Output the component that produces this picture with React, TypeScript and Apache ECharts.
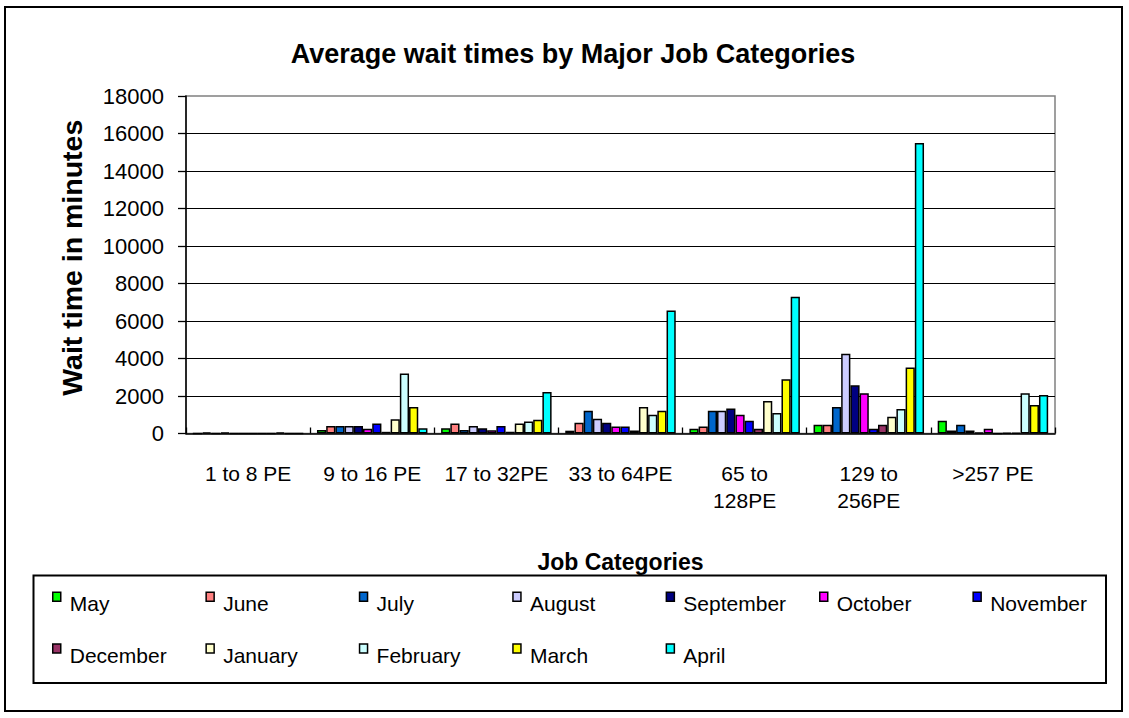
import React, { useEffect, useRef } from "react";
import * as echarts from "echarts";

// Job categories along the x axis
const categories = [
  "1 to 8 PE",
  "9 to 16 PE",
  "17 to 32PE",
  "33 to 64PE",
  "65 to\n128PE",
  "129 to\n256PE",
  ">257 PE",
];

// Months shown as series, in legend order
const months = [
  "May",
  "June",
  "July",
  "August",
  "September",
  "October",
  "November",
  "December",
  "January",
  "February",
  "March",
  "April",
];

const monthColors = [
  "#00FF00",
  "#FF8080",
  "#0066CC",
  "#CCCCFF",
  "#000080",
  "#FF00FF",
  "#0000FF",
  "#993366",
  "#FFFFCC",
  "#CCFFFF",
  "#FFFF00",
  "#00FFFF",
];

// Average wait time (minutes) per job category, one array per month
const may = [0, 190, 280, 150, 260, 470, 680];
const june = [60, 400, 530, 580, 370, 470, 160];
const july = [0, 400, 190, 1210, 1210, 1420, 470];
const august = [60, 400, 400, 790, 1210, 4250, 160];
const september = [0, 400, 280, 580, 1330, 2570, 50];
const october = [0, 250, 170, 370, 1000, 2150, 260];
const november = [0, 530, 400, 370, 680, 260, 0];
const december = [0, 90, 90, 160, 260, 470, 40];
const january = [0, 760, 530, 1420, 1730, 890, 40];
const february = [60, 3200, 640, 1000, 1100, 1310, 2150];
const march = [0, 1420, 740, 1210, 2890, 3520, 1520];
const april = [0, 280, 2210, 6560, 7300, 15500, 2050];

const monthValues = [
  may,
  june,
  july,
  august,
  september,
  october,
  november,
  december,
  january,
  february,
  march,
  april,
];

const yTicks = { min: 0, max: 18000, interval: 2000 };

const FONT = '"Liberation Sans", Arial, Helvetica, sans-serif';

export default function App() {
  const ref = useRef<HTMLDivElement>(null);

  useEffect(() => {
    if (!ref.current) return;
    const chart = echarts.init(ref.current, null, { renderer: "svg" });

    const series = months.map((m, i) => ({
      name: m,
      type: "bar",
      data: monthValues[i],
      barGap: "0%",
      barCategoryGap: "11%",
      itemStyle: {
        color: monthColors[i],
        borderColor: "#000",
        borderWidth: 1.5,
      },
      emphasis: { disabled: true },
    }));

    // one legend per entry so the entries sit on an even two-row grid;
    // the label sits a little below its swatch
    const legends = months.map((m, i) => {
      const row = i < 7 ? 0 : 1;
      const col = i < 7 ? i : i - 7;
      return {
        data: [m],
        left: 52 + col * 153.4,
        top: row === 0 ? 579.3 : 631,
        orient: "horizontal",
        padding: 0,
        icon: "rect",
        itemWidth: 8,
        itemHeight: 9,
        selectedMode: false,
        formatter: "{t|{name}}",
        itemStyle: { borderColor: "#000", borderWidth: 1.5 },
        textStyle: {
          fontFamily: FONT,
          fontSize: 21,
          color: "#000",
          rich: {
            t: {
              fontFamily: FONT,
              fontSize: 21,
              lineHeight: 21,
              color: "#000",
              padding: [14, 0, 0, 4],
            },
          },
        },
      };
    });

    chart.setOption({
      animation: false,
      backgroundColor: "#fff",
      textStyle: { fontFamily: FONT },
      title: {
        text: "Average wait times by Major Job Categories",
        left: 573,
        textAlign: "center",
        top: 40,
        padding: 0,
        textStyle: {
          fontFamily: FONT,
          fontSize: 27,
          fontWeight: "bold",
          color: "#000",
        },
      },
      legend: legends,
      grid: {
        left: 186,
        top: 96,
        right: 74,
        bottom: 284.5,
        show: true,
        borderColor: "#808080",
        borderWidth: 1.5,
        backgroundColor: "transparent",
        outerBoundsMode: "none",
      },
      xAxis: {
        type: "category",
        data: categories,
        name: "Job Categories",
        nameLocation: "middle",
        nameGap: 117,
        nameTextStyle: {
          fontFamily: FONT,
          fontSize: 23,
          fontWeight: "bold",
          color: "#000",
        },
        axisLine: { lineStyle: { color: "#000", width: 1.5 } },
        axisTick: {
          show: true,
          inside: true,
          length: 6,
          lineStyle: { color: "#000", width: 1.3 },
        },
        axisLabel: {
          fontFamily: FONT,
          fontSize: 21,
          lineHeight: 27,
          color: "#000",
          margin: 26,
          interval: 0,
        },
        splitLine: { show: false },
      },
      yAxis: {
        type: "value",
        min: yTicks.min,
        max: yTicks.max,
        interval: yTicks.interval,
        name: "Wait time in minutes",
        nameLocation: "middle",
        nameRotate: 90,
        nameGap: 100,
        nameTextStyle: {
          fontFamily: FONT,
          fontSize: 28.5,
          fontWeight: "bold",
          color: "#000",
          padding: [0, 0, 0, 14],
        },
        axisLine: { show: true, lineStyle: { color: "#000", width: 1.5 } },
        axisTick: {
          show: true,
          length: 8,
          lineStyle: { color: "#000", width: 1.3 },
        },
        axisLabel: {
          fontFamily: FONT,
          fontSize: 22,
          color: "#000",
          margin: 22,
          formatter: (v: number) => String(v),
        },
        splitLine: {
          show: true,
          showMinLine: false,
          showMaxLine: false,
          lineStyle: { color: "#000", width: 1.2 },
        },
      },
      graphic: [
        {
          type: "rect",
          silent: true,
          shape: { x: 5, y: 7, width: 1117, height: 704 },
          style: { fill: "none", stroke: "#000", lineWidth: 2 },
          z: 100,
        },
        {
          type: "rect",
          silent: true,
          shape: { x: 33.5, y: 575.5, width: 1072.5, height: 107.5 },
          style: { fill: "none", stroke: "#000", lineWidth: 2 },
          z: 100,
        },
      ],
      series,
    });

    return () => chart.dispose();
  }, []);

  return (
    <div
      ref={ref}
      style={{
        position: "fixed",
        left: 0,
        top: 0,
        width: 1129,
        height: 718,
        background: "#fff",
      }}
    />
  );
}
